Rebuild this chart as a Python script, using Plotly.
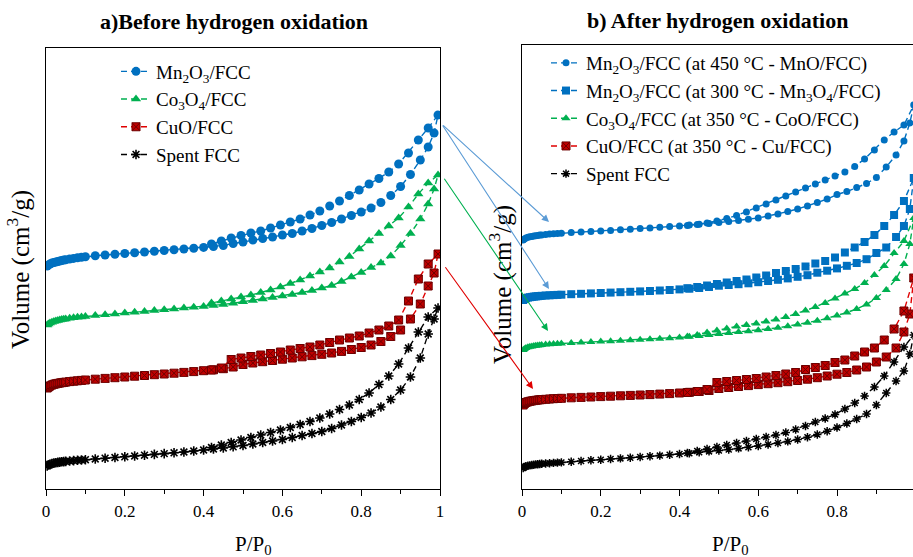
import plotly.graph_objects as go

W, H = 913, 557

# ---------------- data ----------------
p_ads = [0.003, 0.006, 0.01, 0.015, 0.02, 0.025, 0.03, 0.035, 0.04, 0.045, 0.05,
         0.06, 0.07, 0.08, 0.09, 0.10,
         0.125, 0.15, 0.175, 0.20,
         0.225, 0.25, 0.275, 0.30, 0.325, 0.35, 0.375, 0.40,
         0.425, 0.45, 0.475, 0.50, 0.525, 0.55, 0.575, 0.60,
         0.625, 0.65, 0.675, 0.70, 0.725, 0.75, 0.775, 0.80,
         0.825, 0.85, 0.875, 0.90, 0.925, 0.95,
         0.97, 0.985, 0.995]
p_des = [0.97, 0.945, 0.92, 0.895, 0.87, 0.845, 0.82, 0.795, 0.77, 0.745, 0.72, 0.695,
         0.67, 0.645, 0.62, 0.595, 0.57, 0.545, 0.52, 0.495, 0.47, 0.445, 0.42]

# a) before hydrogen oxidation
mn2o3_ads = [223, 224, 225, 226, 226.5, 227, 227.5, 228, 228.5, 229, 229.3,
             230, 230.6, 231.2, 231.7, 232.2,
             233.2, 234, 234.8, 235.5,
             236.3, 237, 237.8, 238.5, 239.2, 240, 240.8, 241.6,
             242.5, 243.5, 245.5, 247, 249, 250.5, 252, 254,
             255.5, 258, 260.5, 263.5, 266.5, 270, 273.5, 277,
             281, 286.5, 293.5, 302.5, 314.5, 329,
             342, 356, 374]
mn2o3_des = [361, 349, 336, 325, 317, 310.5, 305, 299, 293.5, 288, 283, 278,
             274, 270, 267, 264, 261, 258, 256, 253.5, 251, 248, 245]

co3o4_ads = [164, 165, 166, 166.8, 167.5, 168, 168.5, 169, 169.4, 169.8, 170.1,
             170.7, 171.2, 171.7, 172.1, 172.5,
             173.4, 174.3, 175.1, 176,
             176.8, 177.6, 178.4, 179.2, 180, 180.9, 181.7, 182.6,
             183.5, 184.6, 185.7, 187.2, 188.6, 190, 191.4, 193,
             194.6, 196.5, 198.5, 201, 203.5, 207.5, 212, 216.5,
             221.5, 226, 233, 243.5, 255.5, 270,
             285, 300, 314]
co3o4_des = [306, 295, 282, 271, 263, 255.5, 248, 240, 232.5, 227, 221, 217,
             213, 209, 205.5, 202, 199, 196.5, 194, 192, 190, 188, 186]

cuo_ads = [101, 102, 103, 104, 104.7, 105.2, 105.6, 106, 106.3, 106.6, 106.9,
           107.4, 107.8, 108.2, 108.6, 109,
           109.8, 110.6, 111.3, 112,
           112.8, 113.5, 114.3, 115, 115.8, 116.6, 117.4, 118.3,
           119.2, 120.3, 122, 124.5, 126, 127.3, 128.5, 129.8,
           131, 132.2, 133.4, 134.7, 136, 137.6, 139.5, 141.5,
           144, 147.5, 152.5, 159, 170, 185,
           203, 216, 235]
cuo_des = [225, 210, 188, 169, 163, 159, 156, 153, 151, 149, 146.5, 144,
           142, 140.5, 139, 137, 135.5, 134, 132.5, 131, 129.5, 121, 119]

spent_ads = [23, 24, 24.8, 25.4, 25.9, 26.3, 26.6, 26.9, 27.2, 27.4, 27.6,
             28, 28.4, 28.7, 29, 29.3,
             30, 30.8, 31.5, 32.2,
             33, 33.8, 34.6, 35.4, 36.2, 37, 38, 39,
             40, 41, 42.2, 43.5, 45, 46.5, 48, 49.5,
             51.5, 53.5, 55.5, 57.5, 60.5, 64, 67.5, 71.5,
             76, 82, 89.5, 99, 112, 131,
             155, 170, 181]
spent_des = [172, 157, 141, 125, 113, 104.5, 96, 89.5, 84, 79.5, 75, 71,
             67.5, 64.5, 61.5, 59, 56.5, 54, 51.5, 49, 46.5, 44, 41.5]

# b) after hydrogen oxidation
mno_ads = [249, 250, 251, 251.7, 252.2, 252.6, 253, 253.3, 253.6, 253.9, 254.1,
           254.5, 254.9, 255.2, 255.5, 255.8,
           256.4, 257, 257.5, 258,
           258.6, 259.2, 259.8, 260.4, 261, 261.7, 262.4, 263.1,
           263.9, 264.7, 265.6, 266.5, 267.5, 268.6, 269.8, 271,
           273, 275, 277.5, 280, 283, 286.5, 290, 294.5,
           297.5, 301.5, 305.5, 311.5, 322, 334,
           348, 366, 384]
mno_des = [364, 357, 349, 339, 330, 322.5, 317, 313, 309, 305, 301, 297,
           293, 289, 285, 281, 277, 273.5, 270.5, 268, 266, 264.5, 263.5]

mn3o4_ads = [189, 190, 190.8, 191.4, 191.8, 192.1, 192.4, 192.6, 192.8, 193, 193.2,
             193.5, 193.7, 193.9, 194.1, 194.3,
             194.8, 195.2, 195.6, 196,
             196.4, 196.8, 197.2, 197.6, 198, 198.5, 199, 199.6,
             200.3, 201, 202, 203.3, 204, 204.8, 205.7, 206.8,
             208, 209.2, 210.6, 212.2, 213.8, 216.3, 218.3, 220.6,
             223.2, 226, 229.8, 236, 241.5, 252,
             263, 280, 311]
mn3o4_des = [288, 274, 263, 254, 247, 241.5, 236.5, 231.5, 228, 225.5, 222.5, 220,
             218, 216, 213.5, 211.5, 209.5, 208, 206.5, 205, 203.5, 202, 200.8]

coo_ads = [139, 140, 141, 141.7, 142.2, 142.6, 143, 143.3, 143.6, 143.8, 144,
           144.4, 144.7, 145, 145.3, 145.5,
           146, 146.5, 147, 147.4,
           147.8, 148.2, 148.7, 149.2, 149.7, 150.2, 150.8, 151.5,
           152.2, 153, 154, 155, 156, 157, 157.8, 158.8,
           160, 161.2, 162.8, 164.5, 166.2, 168.3, 170.8, 173.5,
           176.5, 180, 184.5, 191, 199, 210,
           225, 245, 271]
coo_des = [248, 236, 223, 214, 206, 200, 195.5, 190.5, 186, 182, 178.5, 175,
           172, 169.5, 167.5, 165.5, 164, 162.5, 160.5, 158.5, 156.5, 154, 152.5]

cu_ads = [84, 85.5, 86.5, 87.2, 87.7, 88.1, 88.4, 88.7, 89, 89.2, 89.4,
          89.7, 90, 90.3, 90.5, 90.7,
          91.2, 91.6, 92, 92.4,
          92.8, 93.2, 93.6, 94, 94.4, 94.9, 95.4, 96,
          96.7, 97.5, 98.5, 100.5, 101.5, 102.5, 103.4, 104.4,
          105.3, 106.3, 107.3, 108.5, 109.8, 111.3, 113, 114.8,
          116.5, 119, 122, 127, 132, 141,
          157, 175, 211]
cu_des = [178, 160, 149, 141, 137, 133, 129, 126.5, 123.5, 121.5, 119.5, 116.5,
          115, 113.5, 112, 110.5, 109.5, 108.5, 107.5, 106.5, 99.5, 97.5, 96.5]

spent2_ads = [21, 22, 22.7, 23.2, 23.6, 24, 24.3, 24.6, 24.8, 25, 25.2,
              25.5, 25.8, 26.1, 26.4, 26.6,
              27.3, 28, 28.7, 29.3,
              30, 30.6, 31.3, 32, 32.7, 33.4, 34.2, 35,
              35.8, 36.7, 37.6, 38.5, 39.5, 40.6, 41.8, 43,
              44.5, 46, 47.6, 49.5, 51.7, 54.5, 57.8, 61.5,
              65.5, 70, 75, 84, 96, 108,
              118, 135, 154]
spent2_des = [142, 127, 113, 102, 93, 86, 80, 74.5, 70.5, 67, 63, 59.5,
              56.5, 54, 52, 50, 48, 46, 44, 42, 40, 38, 36]

tick_vals_a = [0, 0.2, 0.4, 0.6, 0.8, 1]
tick_text_a = ["0", "0.2", "0.4", "0.6", "0.8", "1"]
tick_vals_b = [0, 0.2, 0.4, 0.6, 0.8]
tick_text_b = ["0", "0.2", "0.4", "0.6", "0.8"]

# ---------------- styles ----------------
BLUE = "#0070C0"
GREEN = "#00B050"
RED_LINE = "#E00000"
RED_MK = "#C00000"
BLACK = "#000000"
FONT = "Liberation Serif"
DASH = "6px,4px"

fig = go.Figure()


def add(xs, ys, name, color, symbol, size, xa, ya, legend, mk_color=None,
        mk_line=None, mk_lw=0):
    fig.add_trace(go.Scatter(
        x=xs, y=ys, name=name, mode="lines+markers",
        xaxis=xa, yaxis=ya, legend=legend, legendgroup=name + xa,
        line=dict(color=color, width=1.4, dash=DASH),
        marker=dict(symbol=symbol, size=size, color=mk_color or color,
                    line=dict(color=mk_line or (mk_color or color), width=mk_lw)),
    ))


pa = p_ads + p_des
add(pa, mn2o3_ads + mn2o3_des, "Mn<sub>2</sub>O<sub>3</sub>/FCC", BLUE, "circle", 9,
    "x", "y", "legend")
add(pa, co3o4_ads + co3o4_des, "Co<sub>3</sub>O<sub>4</sub>/FCC", GREEN, "triangle-up", 9,
    "x", "y", "legend")
add(pa, cuo_ads + cuo_des, "CuO/FCC", RED_LINE, "square-x", 8, "x", "y", "legend",
    mk_color=RED_MK, mk_line="#6e0000", mk_lw=1)
add(pa, spent_ads + spent_des, "Spent FCC", BLACK, "asterisk", 8, "x", "y", "legend",
    mk_lw=1.6)

add(pa, mno_ads + mno_des, "Mn<sub>2</sub>O<sub>3</sub>/FCC (at 450 °C - MnO/FCC)", BLUE,
    "circle", 7, "x2", "y2", "legend2")
add(pa, mn3o4_ads + mn3o4_des,
    "Mn<sub>2</sub>O<sub>3</sub>/FCC (at 300 °C - Mn<sub>3</sub>O<sub>4</sub>/FCC)", BLUE,
    "square", 8, "x2", "y2", "legend2")
add(pa, coo_ads + coo_des,
    "Co<sub>3</sub>O<sub>4</sub>/FCC (at 350 °C - CoO/FCC)", GREEN,
    "triangle-up", 8, "x2", "y2", "legend2")
add(pa, cu_ads + cu_des, "CuO/FCC (at 350 °C - Cu/FCC)", RED_LINE, "square-x", 8,
    "x2", "y2", "legend2", mk_color=RED_MK, mk_line="#6e0000", mk_lw=1)
add(pa, spent2_ads + spent2_des, "Spent FCC", BLACK, "asterisk", 7, "x2", "y2", "legend2",
    mk_lw=1.5)


def px(x):
    return x / W


def py(y):
    return 1 - y / H


axis_common = dict(showgrid=False, zeroline=False, showline=True, linecolor="black",
                   linewidth=1.3)
xcommon = dict(axis_common, ticks="outside", ticklen=6, tickwidth=1.3, tickcolor="black",
               tickfont=dict(family=FONT, size=17, color="black"),
               minor=dict(dtick=0.1, ticks="outside", ticklen=4, tickwidth=1.1,
                          tickcolor="black"))

fig.update_layout(
    width=W, height=H,
    margin=dict(l=0, r=0, t=0, b=0),
    paper_bgcolor="white", plot_bgcolor="white",
    font=dict(family=FONT, size=17, color="black"),
    xaxis=dict(xcommon, domain=[px(46), px(440)], range=[0, 1],
               tickvals=tick_vals_a, ticktext=tick_text_a, mirror=True,
               anchor="y", automargin=False),
    yaxis=dict(axis_common, domain=[py(489), py(48)], range=[0, 441],
               showticklabels=False, ticks="", mirror=True, anchor="x",
               automargin=False),
    xaxis2=dict(xcommon, domain=[px(522), 1.0], range=[0, 391 / 393.75],
                tickvals=tick_vals_b, ticktext=tick_text_b, mirror=True,
                anchor="y2", automargin=False),
    yaxis2=dict(axis_common, domain=[py(489), py(45)], range=[0, 444],
                showticklabels=False, ticks="", mirror=False, anchor="x2",
                automargin=False),
    showlegend=True,
    legend=dict(x=px(116), y=py(52.5), xanchor="left", yanchor="top",
                bgcolor="rgba(0,0,0,0)", borderwidth=0, tracegroupgap=0,
                font=dict(family=FONT, size=19, color="black"),
                itemwidth=30),
    legend2=dict(x=px(546), y=py(44), xanchor="left", yanchor="top",
                 bgcolor="rgba(0,0,0,0)", borderwidth=0, tracegroupgap=0,
                 font=dict(family=FONT, size=19, color="black"),
                 itemwidth=30),
)

ann = []
# panel titles
ann.append(dict(text="<b>a)Before hydrogen oxidation</b>", x=px(234), y=py(22),
                xref="paper", yref="paper", showarrow=False, xanchor="center",
                yanchor="middle", font=dict(family=FONT, size=22, color="black")))
ann.append(dict(text="<b>b) After hydrogen oxidation</b>", x=px(717), y=py(20),
                xref="paper", yref="paper", showarrow=False, xanchor="center",
                yanchor="middle", font=dict(family=FONT, size=22, color="black")))
# axis titles
for xc, yc in ((18, 270), (500, 285)):
    ann.append(dict(text="Volume (cm<sup>3</sup>/g)", x=px(xc), y=py(yc),
                    xref="paper", yref="paper", showarrow=False, textangle=-90,
                    xanchor="center", yanchor="middle",
                    font=dict(family=FONT, size=25, color="black")))
for xl in (233, 710):
    ann.append(dict(text="P/P<sub>0</sub>", x=px(xl), y=py(530), xanchor="left",
                    yanchor="top", xref="paper", yref="paper", showarrow=False,
                    font=dict(family=FONT, size=21, color="black")))
# arrows (tail -> head)
arrows = [((441.7, 124), (549, 222), "#5B9BD5"),
          ((441.7, 124), (549, 289), "#5B9BD5"),
          ((443.3, 177.3), (548, 331), "#00B050"),
          ((444.3, 265.7), (533, 389), "#E00000")]
for (tx, ty), (hx, hy), col in arrows:
    ann.append(dict(x=px(hx), y=py(hy), xref="paper", yref="paper",
                    ax=tx - hx, ay=ty - hy, axref="pixel", ayref="pixel",
                    showarrow=True, arrowhead=2, arrowsize=1.3, arrowwidth=1.1,
                    arrowcolor=col, text=""))
fig.update_layout(annotations=ann)

fig.write_html("out.html")
